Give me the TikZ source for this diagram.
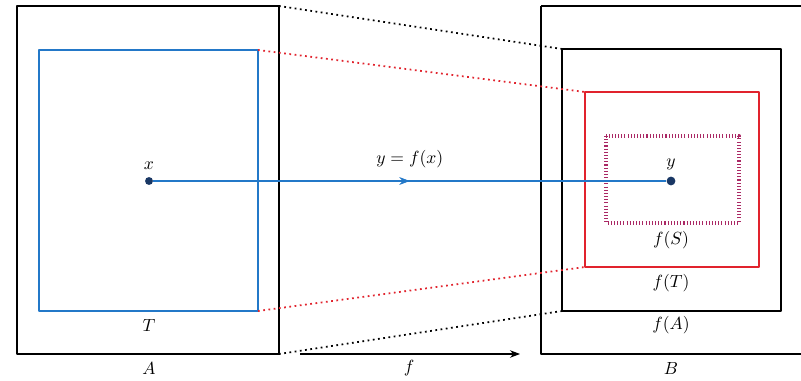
\documentclass[tikz,border=0pt]{standalone}
\usetikzlibrary{arrows.meta}
\definecolor{setblue}{RGB}{35,120,200}
\definecolor{imgred}{RGB}{225,35,45}
\definecolor{subpurple}{RGB}{170,40,100}
\definecolor{ptnavy}{RGB}{25,55,100}
\tikzset{
  setbox/.style={line width=0.7pt},
  guide/.style={dotted, line width=1pt},
  pt/.style={circle, fill=ptnavy, inner sep=0pt, minimum size=5pt}
}
\begin{document}
\begin{tikzpicture}[x=0.02cm, y=-0.02cm, line join=round, >=Stealth]
				\useasboundingbox (0, 0) rectangle (801, 381);
				% domain
				\draw[setbox] (17, 6) rectangle (279, 354);
				\draw[setbox, setblue] (39, 50) rectangle (258, 311);
				% codomain
				\draw[setbox] (541, 6) -- (801, 6) (541, 6) -- (541, 354) -- (801, 354);
				\draw[setbox] (562, 49) rectangle (781, 311);
				\draw[setbox, imgred] (585, 92) rectangle (759, 267);
				\draw[subpurple, line width=2.2pt, dash pattern=on 0.6pt off 1.2pt] (606, 136) rectangle (739, 223);
				% corners
				\coordinate (Atr) at (279, 6);
				\coordinate (Abr) at (279, 354);
				\coordinate (Ttr) at (258, 50);
				\coordinate (Tbr) at (258, 311);
				\coordinate (fAtl) at (562, 49);
				\coordinate (fAbl) at (562, 311);
				\coordinate (fTtl) at (585, 92);
				\coordinate (fTbl) at (585, 267);
				\draw[guide] (Atr) -- (fAtl) (Abr) -- (fAbl);
				\draw[guide, imgred] (Ttr) -- (fTtl) (Tbr) -- (fTbl);
				% points
				\node[pt, minimum size=4.5pt] (x) at (149, 181) {};
				\node[pt] (y) at (671, 181) {};
				\node[above=3pt] at (x) {$x$};
				\node[above=3pt] at (y) {$y$};
				\draw[setblue, line width=0.6pt] (x) -- (y)
				node[pos=0.49, sloped, inner sep=0pt] {\tikz\draw[setblue, -{Stealth[length=6pt]}] (0,0) -- (0.1pt,0);}
				node[pos=0.5, above=4pt, text=black] {$y=f(x)$};
				% map
				\coordinate (fs) at (300, 354);
				\coordinate (fe) at (520, 354);
				\draw[->, line width=0.6pt] (fs) -- (fe);
				\node at (409, 368) {$f$};
				% labels
				\node at (149, 325) {$T$};
				\node at (149, 368) {$A$};
				\node at (671, 240) {$f(S)$};
				\node at (671, 283) {$f(T)$};
				\node at (671, 325) {$f(A)$};
				\node at (671, 368) {$B$};
			\end{tikzpicture}
\end{document}
